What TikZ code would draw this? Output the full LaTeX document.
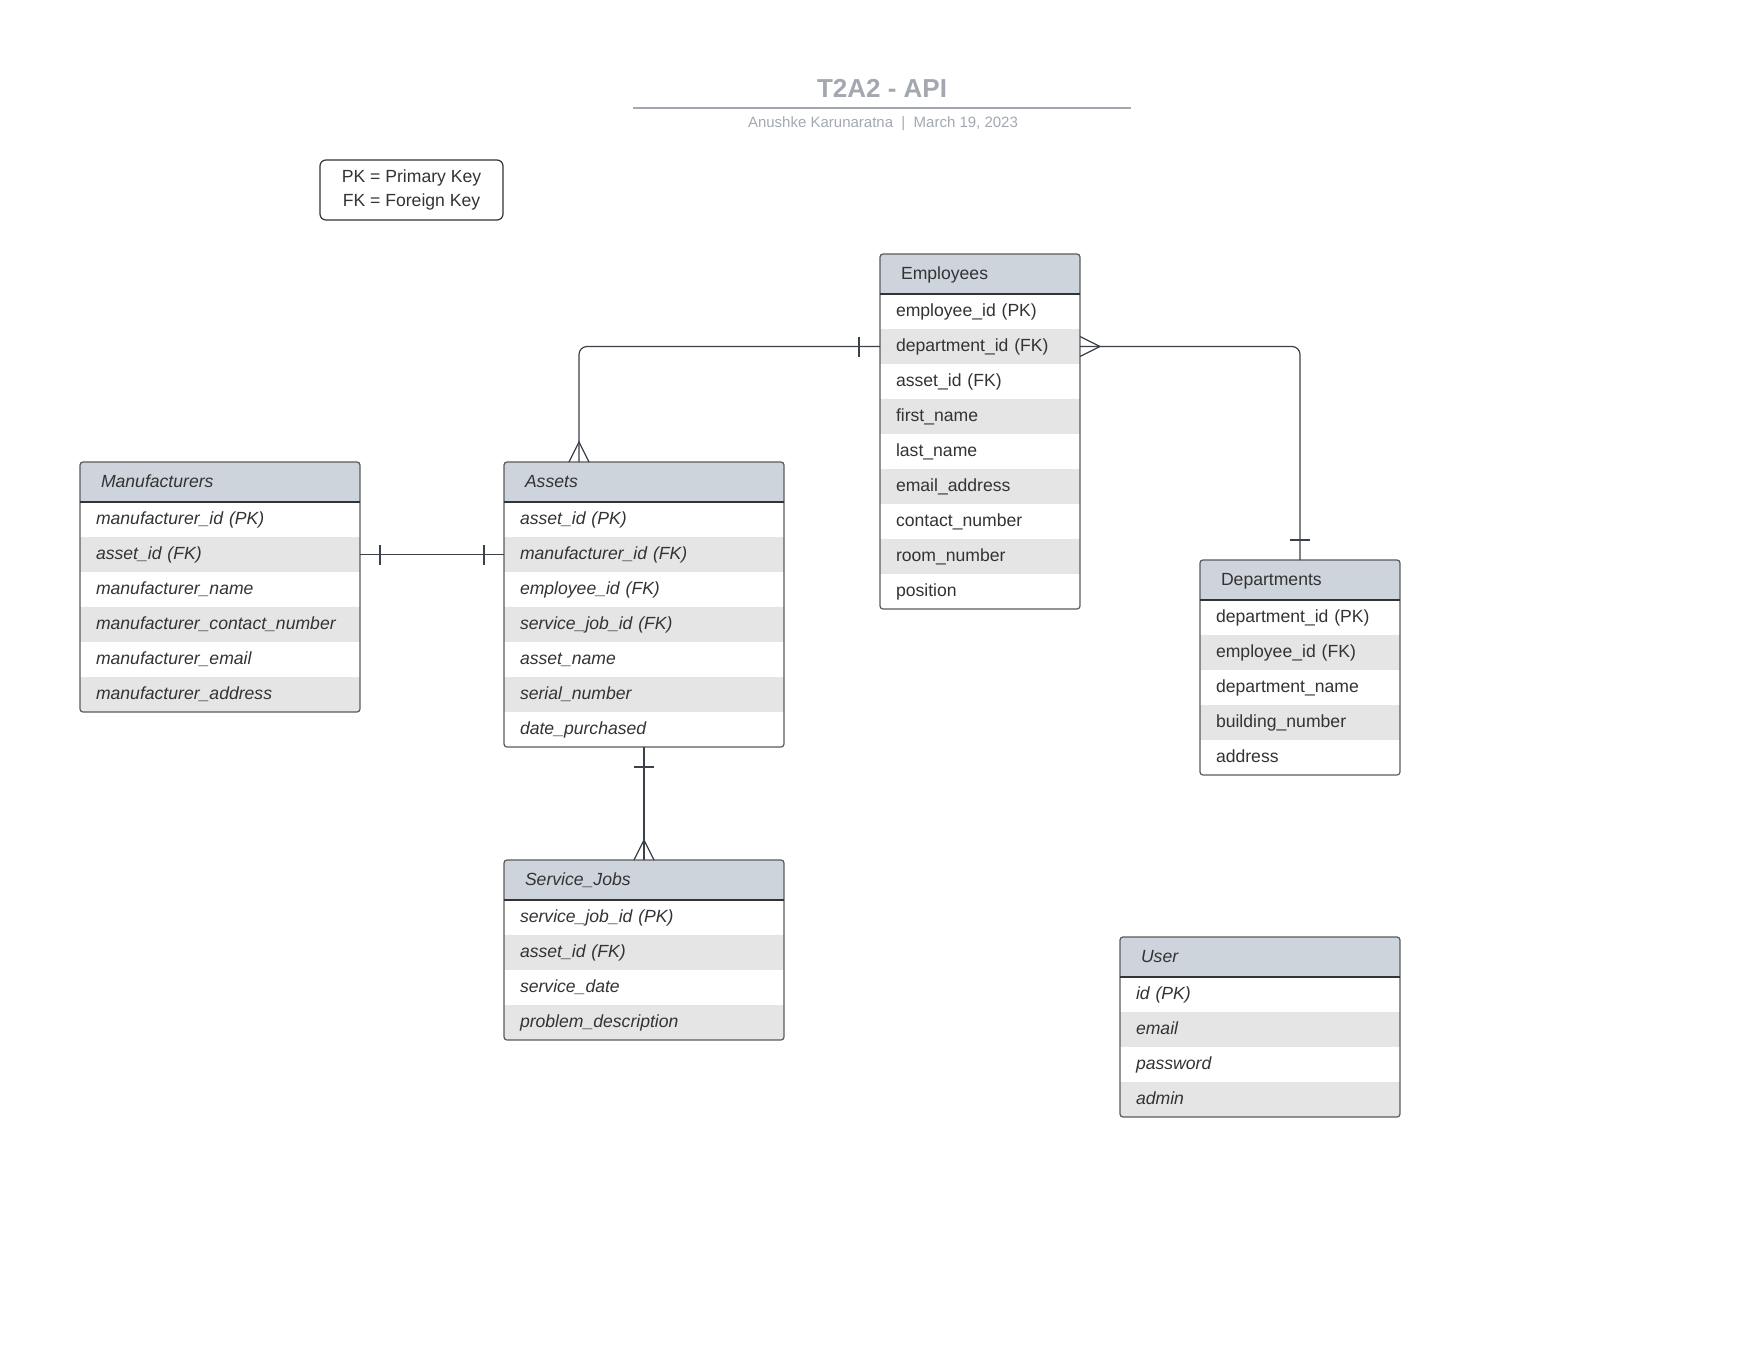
\documentclass[tikz,border=0pt]{standalone}
\usepackage{fontspec}
\setmainfont{Liberation Sans}
\usepackage{tikz}
\usetikzlibrary{positioning}

\definecolor{hdrfill}{HTML}{CED4DC}
\definecolor{stripe}{HTML}{E5E5E5}
\definecolor{edgegray}{HTML}{5A5A5A}
\definecolor{linkgray}{HTML}{3A414A}
\definecolor{ink}{HTML}{333333}
\definecolor{titlegray}{HTML}{A3A8B0}

\begin{document}
\begin{tikzpicture}[x=1pt, y=-1pt,
  every node/.style={inner sep=0pt, outer sep=0pt, text=ink, font=\fontsize{17.6}{21}\selectfont},
  ital/.style={font=\fontsize{17.6}{21}\selectfont\itshape},
  hdr/.style={rectangle, fill=hdrfill, inner xsep=16pt, minimum height=40pt, text height=13.5pt, text depth=3pt, align=left},
  row/.style={rectangle, inner xsep=16pt, minimum height=35pt, text height=13.5pt, text depth=3pt, align=left},
  wide/.style={text width=248pt},
  narrow/.style={text width=168pt},
  tablebox/.style={draw=edgegray, line width=1.2pt, rounded corners=3pt},
  hdrline/.style={draw=ink, line width=1.4pt},
  link/.style={draw=linkgray, line width=1.2pt}
]
\useasboundingbox (0,0) rectangle (1760,1360);

% Title block
\node[font=\fontsize{26}{30}\selectfont\bfseries, text=titlegray, anchor=base] (title) at (882,97.5) {T2A2 - API};
\draw[titlegray, line width=2pt] (633,108) -- (1131,108);
\node[font=\fontsize{15}{18}\selectfont, text=titlegray, anchor=base] (subtitle) at (883,127.5) {Anushke Karunaratna\ \ |\ \ March 19, 2023};

% Legend
\node[draw=ink, line width=1.2pt, rounded corners=6pt, minimum width=183pt, minimum height=60pt, align=center, font=\fontsize{17.6}{24}\selectfont] (legend) at (411.5,190) {PK = Primary Key\\FK = Foreign Key};

% Manufacturers
\node[hdr, wide, ital, anchor=north west] (man-0) at (80,462) {\hspace*{5pt}Manufacturers};
\foreach \txt [count=\i, remember=\i as \j (initially 0)] in {manufacturer\_id (PK), asset\_id (FK), manufacturer\_name, manufacturer\_contact\_number, manufacturer\_email, manufacturer\_address} {
  \ifodd\i \def\rowfill{white}\else \def\rowfill{stripe}\fi
  \node[row, wide, ital, fill=\rowfill, below=0pt of man-\j] (man-\i) {\txt};
}
\draw[tablebox] (man-0.north west) rectangle (man-6.south east);
\draw[hdrline] (man-0.south west) -- (man-0.south east);

% Assets
\node[hdr, wide, ital, anchor=north west] (ast-0) at (504,462) {\hspace*{5pt}Assets};
\foreach \txt [count=\i, remember=\i as \j (initially 0)] in {asset\_id (PK), manufacturer\_id (FK), employee\_id (FK), service\_job\_id (FK), asset\_name, serial\_number, date\_purchased} {
  \ifodd\i \def\rowfill{white}\else \def\rowfill{stripe}\fi
  \node[row, wide, ital, fill=\rowfill, below=0pt of ast-\j] (ast-\i) {\txt};
}
\draw[tablebox] (ast-0.north west) rectangle (ast-7.south east);
\draw[hdrline] (ast-0.south west) -- (ast-0.south east);

% Employees
\node[hdr, narrow, anchor=north west] (emp-0) at (880,254) {\hspace*{5pt}Employees};
\foreach \txt [count=\i, remember=\i as \j (initially 0)] in {employee\_id (PK), department\_id (FK), asset\_id (FK), first\_name, last\_name, email\_address, contact\_number, room\_number, position} {
  \ifodd\i \def\rowfill{white}\else \def\rowfill{stripe}\fi
  \node[row, narrow, fill=\rowfill, below=0pt of emp-\j] (emp-\i) {\txt};
}
\draw[tablebox] (emp-0.north west) rectangle (emp-9.south east);
\draw[hdrline] (emp-0.south west) -- (emp-0.south east);

% Departments
\node[hdr, narrow, anchor=north west] (dep-0) at (1200,560) {\hspace*{5pt}Departments};
\foreach \txt [count=\i, remember=\i as \j (initially 0)] in {department\_id (PK), employee\_id (FK), department\_name, building\_number, address} {
  \ifodd\i \def\rowfill{white}\else \def\rowfill{stripe}\fi
  \node[row, narrow, fill=\rowfill, below=0pt of dep-\j] (dep-\i) {\txt};
}
\draw[tablebox] (dep-0.north west) rectangle (dep-5.south east);
\draw[hdrline] (dep-0.south west) -- (dep-0.south east);

% Service_Jobs
\node[hdr, wide, ital, anchor=north west] (svc-0) at (504,860) {\hspace*{5pt}Service\_Jobs};
\foreach \txt [count=\i, remember=\i as \j (initially 0)] in {service\_job\_id (PK), asset\_id (FK), service\_date, problem\_description} {
  \ifodd\i \def\rowfill{white}\else \def\rowfill{stripe}\fi
  \node[row, wide, ital, fill=\rowfill, below=0pt of svc-\j] (svc-\i) {\txt};
}
\draw[tablebox] (svc-0.north west) rectangle (svc-4.south east);
\draw[hdrline] (svc-0.south west) -- (svc-0.south east);

% User
\node[hdr, wide, ital, anchor=north west] (usr-0) at (1120,937) {\hspace*{5pt}User};
\foreach \txt [count=\i, remember=\i as \j (initially 0)] in {id (PK), email, password, admin} {
  \ifodd\i \def\rowfill{white}\else \def\rowfill{stripe}\fi
  \node[row, wide, ital, fill=\rowfill, below=0pt of usr-\j] (usr-\i) {\txt};
}
\draw[tablebox] (usr-0.north west) rectangle (usr-4.south east);
\draw[hdrline] (usr-0.south west) -- (usr-0.south east);

% Employees -- Assets (one to many)
\draw[link, rounded corners=8pt] (emp-2.west) -| ([xshift=75pt]ast-0.north west);
\draw[link] ([xshift=-21pt, yshift=10pt]emp-2.west) -- ([xshift=-21pt, yshift=-10pt]emp-2.west);
\draw[link] ([xshift=65pt]ast-0.north west) -- ([xshift=75pt, yshift=20pt]ast-0.north west) -- ([xshift=85pt]ast-0.north west);

% Manufacturers -- Assets (one to one)
\draw[link] (man-2.east) -- (ast-2.west);
\draw[link] ([xshift=20pt, yshift=10pt]man-2.east) -- ([xshift=20pt, yshift=-10pt]man-2.east);
\draw[link] ([xshift=-20pt, yshift=10pt]ast-2.west) -- ([xshift=-20pt, yshift=-10pt]ast-2.west);

% Employees -- Departments (many to one)
\draw[link, rounded corners=8pt] (emp-2.east) -| (dep-0.north);
\draw[link] ([yshift=10pt]emp-2.east) -- ([xshift=20pt]emp-2.east) -- ([yshift=-10pt]emp-2.east);
\draw[link] ([xshift=-10pt, yshift=20pt]dep-0.north) -- ([xshift=10pt, yshift=20pt]dep-0.north);

% Assets -- Service_Jobs (one to many)
\draw[link] (ast-7.south) -- (svc-0.north);
\draw[link] ([xshift=-10pt, yshift=-20pt]ast-7.south) -- ([xshift=10pt, yshift=-20pt]ast-7.south);
\draw[link] ([xshift=-10pt]svc-0.north) -- ([yshift=20pt]svc-0.north) -- ([xshift=10pt]svc-0.north);
\end{tikzpicture}
\end{document}
